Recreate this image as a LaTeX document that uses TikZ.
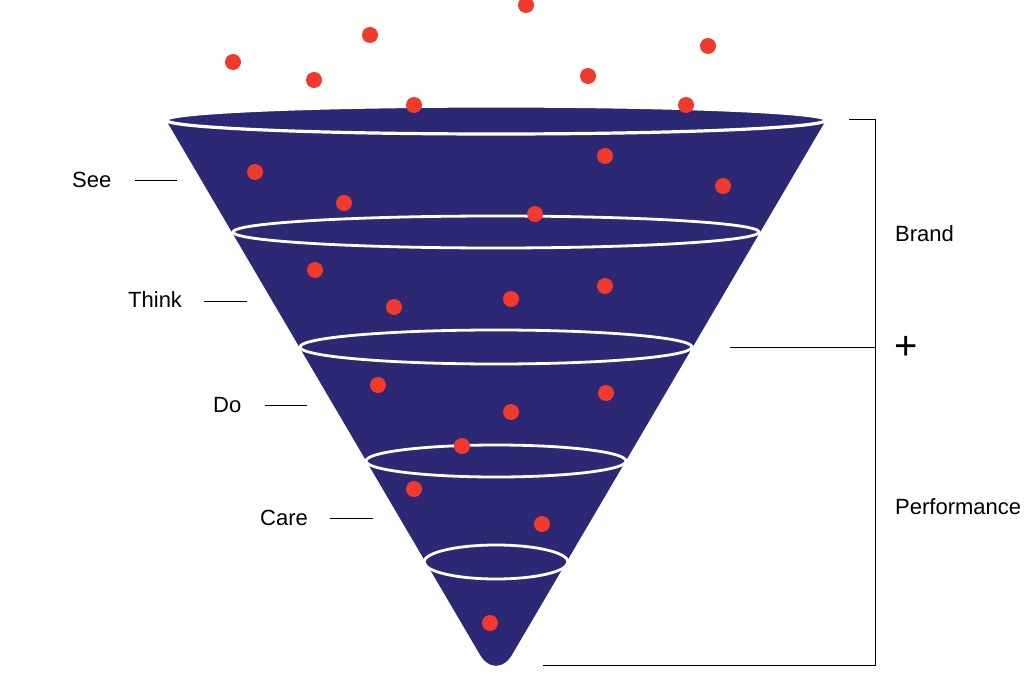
\documentclass[tikz,border=0pt]{standalone}
\usepackage{fontspec}
\setmainfont{Liberation Sans}
\definecolor{navy}{RGB}{45,40,115}
\definecolor{dotred}{RGB}{240,58,46}
\begin{document}
\begin{tikzpicture}[x=1pt,y=-1pt,
  dot/.style={fill=dotred},
  ring/.style={draw=white, line width=2.8pt},
  lbl/.style={font=\fontsize{22}{26}\selectfont, text=black, inner sep=0pt, anchor=west},
  tickline/.style={draw=black, line width=0.9pt},
  brack/.style={draw=black, line width=1pt}]
\useasboundingbox[fill=white] (0,0) rectangle (1024,687);
% cone
\fill[navy] (166,120) -- (479.8,654.4) .. controls (488.7,669.6) and (503.3,669.6) .. (512.2,654.4) -- (826,120) -- cycle;
\fill[navy] (496,120) ellipse [x radius=330pt, y radius=14pt];
% rings
\draw[ring, line width=3.2pt] (496,120) ellipse [x radius=330pt, y radius=14pt];
\draw[ring] (496,232) ellipse [x radius=263pt, y radius=16pt];
\draw[ring] (496,347) ellipse [x radius=196pt, y radius=17pt];
\draw[ring] (496,461) ellipse [x radius=130pt, y radius=16pt];
\draw[ring] (496,562) ellipse [x radius=72pt, y radius=17pt];
% dots
\foreach \p in {(233,62),(370,35),(314,80),(526,5),(588,76),(708,46),(414,105),(686,105),
  (255,172),(605,156),(723,186),(344,203),(535,214),(315,270),(394,307),(511,299),(605,286),
  (378,385),(511,412),(606,393),(462,446),(414,489),(542,524),(490,623)}
  \fill[dot] \p circle[radius=8pt];
% labels
\node[lbl] (see) at (72,180) {See};
\node[lbl] (think) at (128,300) {Think};
\node[lbl] (do) at (213,405) {Do};
\node[lbl] (care) at (260,518) {Care};
\coordinate (seeA) at (135,180); \coordinate (seeB) at (177,180);
\coordinate (thinkA) at (204,301); \coordinate (thinkB) at (247,301);
\coordinate (doA) at (265,405); \coordinate (doB) at (307,405);
\coordinate (careA) at (330,518); \coordinate (careB) at (373,518);
\draw[tickline] (seeA) -- (seeB);
\draw[tickline] (thinkA) -- (thinkB);
\draw[tickline] (doA) -- (doB);
\draw[tickline] (careA) -- (careB);
% bracket
\coordinate (bt0) at (849,120); \coordinate (bt1) at (875,120);
\coordinate (bb1) at (875,665); \coordinate (bb0) at (543,665);
\coordinate (bm0) at (730,347); \coordinate (bm1) at (875,347);
\draw[brack] (bt0) -- (bt1) -- (bb1) -- (bb0);
\draw[brack] (bm0) -- (bm1);
\node[lbl] (brand) at (895,234) {Brand};
\node[lbl] (perf) at (895,507) {Performance};
\node[font=\fontsize{40}{40}\selectfont, inner sep=0pt] (plus) at (906,348) {+};
\end{tikzpicture}
\end{document}
